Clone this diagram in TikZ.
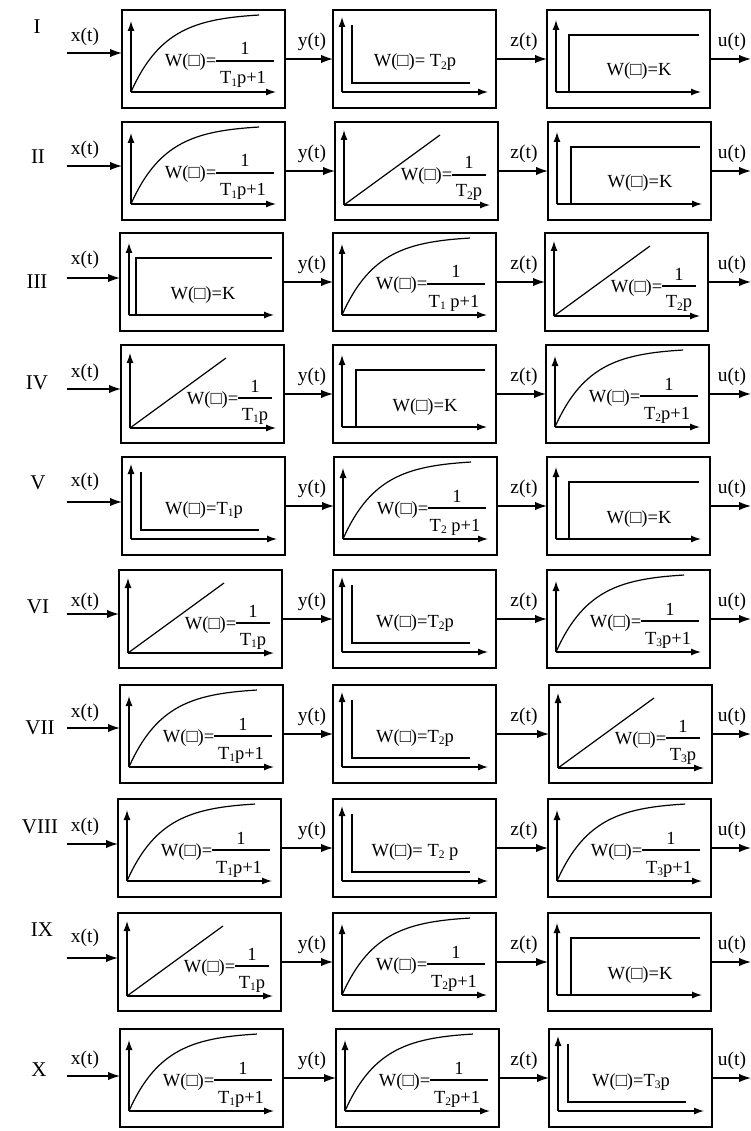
\documentclass[tikz,border=0pt]{standalone}
\usepackage{fontspec}
\setmainfont{Liberation Serif}
\usetikzlibrary{arrows.meta}
\newcommand\wfont{\fontsize{18.5}{21}\selectfont}
\newcommand\lfont{\fontsize{19.5}{22}\selectfont}
\newcommand\nfont{\fontsize{21}{24}\selectfont}
\newcommand\lowidx[1]{\raisebox{-0.25ex}{\fontsize{11.5}{11.5}\selectfont #1}}
\tikzset{
  blk/.style={draw, line width=1.5pt, minimum width=163pt, minimum height=98pt, inner sep=0pt, outer sep=0pt, anchor=north west},
  ax/.style={line width=1.3pt, -{Latex[length=10pt,width=7pt]}},
  crv/.style={line width=1.2pt},
  barline/.style={line width=1.2pt},
  sig/.style={line width=1.5pt, -{Latex[length=12pt,width=8.5pt]}},
  lbl/.style={font=\lfont, inner sep=0pt},
  numl/.style={font=\nfont, inner sep=0pt},
  wtxt/.style={font=\wfont, inner sep=0pt},
}
% aperiodic block: name, x, y, denominator
\newcommand\boxA[4]{%
  \node[blk] (#1) at (#2,#3) {};
  \coordinate (#1o) at ({#2+9},{#3+82});
  \draw[ax] (#1o) -- ++(0,-71);
  \draw[ax] (#1o) -- ++(145,0);
  \draw[crv] plot[domain=0:128,samples=60] ({#2+9+\x},{#3+82-79*(1-exp(-\x/35))});
  \coordinate (#1bl) at ({#2+94},{#3+51});
  \coordinate (#1br) at ({#2+152},{#3+51});
  \draw[barline] (#1bl) -- (#1br);
  \node[wtxt,anchor=base east] (#1w) at ({#2+94.5},{#3+57}) {W(□)=};
  \node[wtxt,anchor=base] (#1n) at ({#2+123},{#3+45}) {1};
  \node[wtxt,anchor=base] (#1d) at ({#2+121},{#3+74}) {#4};
}
% gain block: name, x, y, step x, text x
\newcommand\boxK[5]{%
  \node[blk] (#1) at (#2,#3) {};
  \coordinate (#1o) at ({#2+9},{#3+82});
  \draw[ax] (#1o) -- ++(0,-72);
  \draw[ax] (#1o) -- ++(145,0);
  \draw[crv] ({#2+#4},{#3+82}) -- ({#2+#4},{#3+25}) -- ({#2+152},{#3+25});
  \node[wtxt,anchor=base] (#1w) at ({#2+#5},{#3+66}) {W(□)=K};
}
% differentiating block: name, x, y, text
\newcommand\boxD[4]{%
  \node[blk] (#1) at (#2,#3) {};
  \coordinate (#1o) at ({#2+9},{#3+82});
  \draw[ax] (#1o) -- ++(0,-75);
  \draw[ax] (#1o) -- ++(146,0);
  \draw[crv] ({#2+19},{#3+15}) -- ({#2+19},{#3+73}) -- ({#2+137},{#3+73});
  \node[wtxt,anchor=base] (#1w) at ({#2+82},{#3+57}) {#4};
}
% integrating block: name, x, y, denominator
\newcommand\boxI[4]{%
  \node[blk] (#1) at (#2,#3) {};
  \coordinate (#1o) at ({#2+9},{#3+83});
  \draw[ax] (#1o) -- ++(0,-75);
  \draw[ax] (#1o) -- ++(146,0);
  \draw[crv] (#1o) -- ({#2+105},{#3+13});
  \coordinate (#1bl) at ({#2+117},{#3+53});
  \coordinate (#1br) at ({#2+151},{#3+53});
  \draw[barline] (#1bl) -- (#1br);
  \node[wtxt,anchor=base east] (#1w) at ({#2+117.5},{#3+59}) {W(□)=};
  \node[wtxt,anchor=base] (#1n) at ({#2+134},{#3+47}) {1};
  \node[wtxt,anchor=base] (#1d) at ({#2+134},{#3+75}) {#4};
}
% row frame: id, numeral, numeral x, numeral y, input arrow y, x(t) y, row centre y
\newcommand\rowconn[7]{%
  \node[numl] (r#1) at (#3,#4) {#2};
  \node[lbl] (x#1) at (85,#6) {x(t)};
  \coordinate (i#1) at (67,#5);
  \draw[sig] (i#1) -- (i#1 -| b#1a.west);
  \draw[sig] (b#1a.east) -- (b#1b.west);
  \node[lbl] (y#1) at (312,{#7-17}) {y(t)};
  \draw[sig] (b#1b.east) -- (b#1c.west);
  \node[lbl] (z#1) at (524,{#7-17}) {z(t)};
  \coordinate (o#1) at (751,#7);
  \draw[sig] (b#1c.east) -- (b#1c.east -| o#1);
  \node[lbl] (u#1) at (732,{#7-17}) {u(t)};
}
\begin{document}
\begin{tikzpicture}[x=1pt,y=-1pt]
\useasboundingbox (0,0) rectangle (751,1131);
\fill[white] (0,0) rectangle (751,1131);
% I
\boxA{b1a}{122}{10}{T\lowidx{1}p+1}
\boxD{b1b}{333}{10}{W(□)= T\lowidx{2}p}
\boxK{b1c}{547}{10}{22}{92}
\rowconn{1}{I}{37}{27}{53}{37}{59}
% II
\boxA{b2a}{122}{122}{T\lowidx{1}p+1}
\boxI{b2b}{335}{122}{T\lowidx{2}p}
\boxK{b2c}{548}{122}{23}{92}
\rowconn{2}{II}{38}{157}{166}{150}{171}
% III
\boxK{b3a}{120}{233}{16}{83}
\boxA{b3b}{333}{233}{T\lowidx{1} p+1}
\boxI{b3c}{545}{233}{T\lowidx{2}p}
\rowconn{3}{III}{37}{282}{278}{260}{282}
% IV
\boxI{b4a}{121}{345}{T\lowidx{1}p}
\boxK{b4b}{333}{345}{23}{92}
\boxA{b4c}{546}{345}{T\lowidx{2}p+1}
\rowconn{4}{IV}{37}{383}{389}{373}{394}
% V
\boxD{b5a}{122}{457}{W(□)=T\lowidx{1}p}
\boxA{b5b}{334}{457}{T\lowidx{2} p+1}
\boxK{b5c}{547}{457}{22}{92}
\rowconn{5}{V}{38}{483}{502}{482}{506}
% VI
\boxI{b6a}{119}{570}{T\lowidx{1}p}
\boxD{b6b}{333}{570}{W(□)=T\lowidx{2}p}
\boxA{b6c}{547}{570}{T\lowidx{3}p+1}
\rowconn{6}{VI}{38}{607}{614}{602}{619}
% VII
\boxA{b7a}{120}{685}{T\lowidx{1}p+1}
\boxD{b7b}{333}{685}{W(□)=T\lowidx{2}p}
\boxI{b7c}{549}{685}{T\lowidx{3}p}
\rowconn{7}{VII}{40}{728}{728}{713}{734}
% VIII
\boxA{b8a}{118}{799}{T\lowidx{1}p+1}
\boxD{b8b}{333}{799}{W(□)= T\lowidx{2} p}
\boxA{b8c}{548}{799}{T\lowidx{3}p+1}
\rowconn{8}{VIII}{40}{827}{844}{827}{848}
% IX
\boxI{b9a}{118}{913}{T\lowidx{1}p}
\boxA{b9b}{333}{913}{T\lowidx{2}p+1}
\boxK{b9c}{548}{913}{23}{92}
\rowconn{9}{IX}{42}{930}{958}{938}{962}
% X
\boxA{b10a}{120}{1029}{T\lowidx{1}p+1}
\boxA{b10b}{336}{1029}{T\lowidx{2}p+1}
\boxD{b10c}{549}{1029}{W(□)=T\lowidx{3}p}
\rowconn{10}{X}{39}{1070}{1076}{1060}{1078}
\end{tikzpicture}
\end{document}
